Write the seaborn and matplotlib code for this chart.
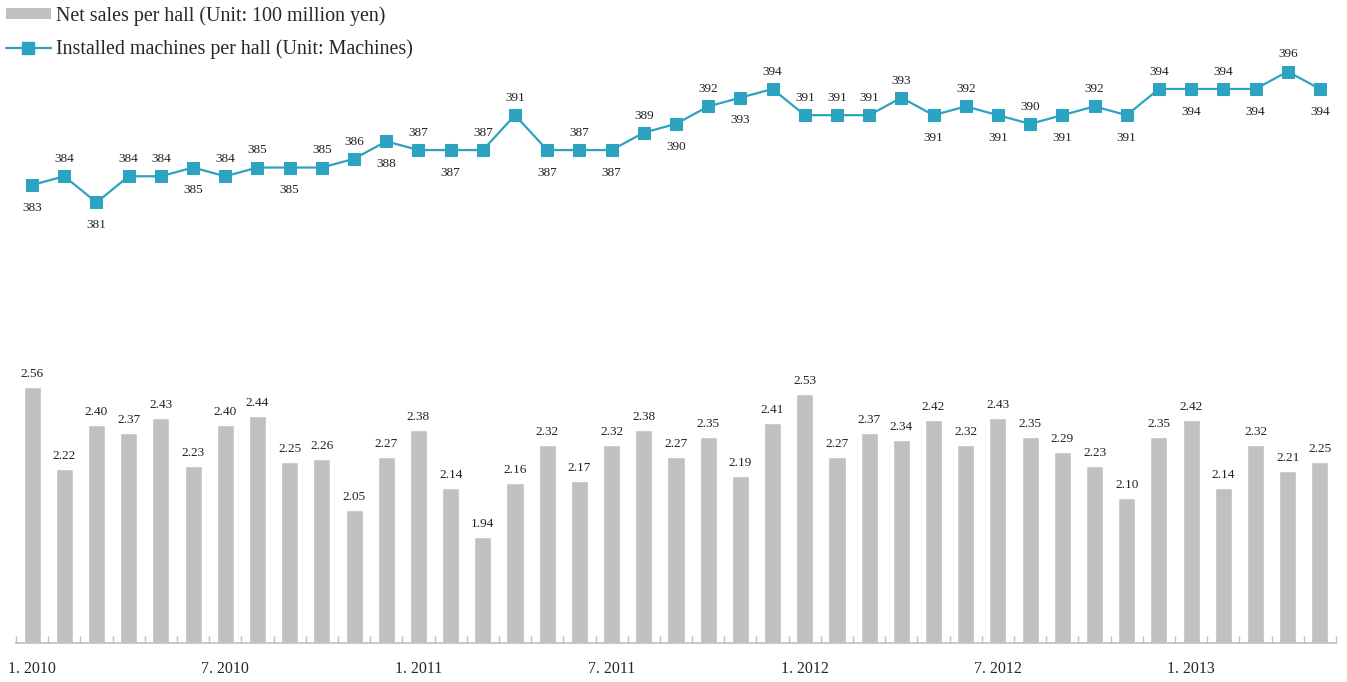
import matplotlib
matplotlib.use("Agg")
import matplotlib.pyplot as plt
from matplotlib.patches import Patch
from matplotlib.lines import Line2D
import seaborn as sns
import pandas as pd
import numpy as np

# Monthly series, January 2010 - May 2013
months = [f"{m}. {y}" for y in range(2010, 2014) for m in range(1, 13)][:41]

net_sales = [2.56, 2.22, 2.40, 2.37, 2.43, 2.23, 2.40, 2.44, 2.25, 2.26, 2.05, 2.27,
             2.38, 2.14, 1.94, 2.16, 2.32, 2.17, 2.32, 2.38, 2.27, 2.35, 2.19, 2.41,
             2.53, 2.27, 2.37, 2.34, 2.42, 2.32, 2.43, 2.35, 2.29, 2.23, 2.10, 2.35,
             2.42, 2.14, 2.32, 2.21, 2.25]

machines = [383, 384, 381, 384, 384, 385, 384, 385, 385, 385, 386, 388,
            387, 387, 387, 391, 387, 387, 387, 389, 390, 392, 393, 394,
            391, 391, 391, 393, 391, 392, 391, 390, 391, 392, 391, 394,
            394, 394, 394, 396, 394]

# which side of the marker each machine-count label sits on
label_side = ["b", "a", "b", "a", "a", "b", "a", "a", "b", "a", "a", "b",
              "a", "b", "a", "a", "b", "a", "b", "a", "b", "a", "b", "a",
              "a", "a", "a", "a", "b", "a", "b", "a", "b", "a", "b", "a",
              "b", "a", "b", "a", "b"]

tick_labels = {0: "1. 2010", 6: "7. 2010", 12: "1. 2011", 18: "7. 2011",
               24: "1. 2012", 30: "7. 2012", 36: "1. 2013"}

BAR_COLOR = "#C0C0C0"
LINE_COLOR = "#2CA3C1"
AXIS_COLOR = "#BFBFBF"

sns.set_theme(style="white")
plt.rcParams["font.family"] = ["Liberation Serif", "DejaVu Serif"]

df = pd.DataFrame({"month": months, "sales": net_sales,
                   "idx": np.arange(len(months)), "machines": machines})

W, H = 1347, 682
fig = plt.figure(figsize=(W / 100, H / 100), dpi=100)
ax = fig.add_axes([16 / W, 39 / H, 1320 / W, 643 / H])

sns.barplot(data=df, x="month", y="sales", order=months, color=BAR_COLOR,
            width=0.53, saturation=1, ax=ax)
ax.set_xlim(-0.5, len(months) - 0.5)
ax.set_ylim(1.50, 4.158)
ax.set_xlabel("")
ax.set_ylabel("")
ax.set_yticks([])
for s in ["top", "right", "left"]:
    ax.spines[s].set_visible(False)
ax.spines["bottom"].set_color(AXIS_COLOR)
ax.spines["bottom"].set_linewidth(1.2)

# ticks between months, labels at half-year marks
ax.set_xticks(np.arange(-0.5, len(months), 1.0))
ax.set_xticklabels([])
ax.tick_params(axis="x", which="major", direction="in", length=5,
               color=AXIS_COLOR, width=1, bottom=True)
ax.set_xticks(list(tick_labels.keys()), minor=True)
ax.set_xticklabels(list(tick_labels.values()), minor=True, fontsize=11.5)
ax.tick_params(axis="x", which="minor", length=0, pad=13, bottom=True)

for i, v in enumerate(net_sales):
    ax.annotate(f"{v:.2f}", (i, v), xytext=(0, 5), textcoords="offset points",
                ha="center", va="bottom", fontsize=9.5, color="#222222")

ax2 = ax.twinx()
sns.lineplot(data=df, x="idx", y="machines", color=LINE_COLOR, linewidth=1.6,
             marker="s", markersize=8, markeredgecolor=LINE_COLOR, ax=ax2)
ax2.set_ylim(330.54, 404.19)
ax2.set_xlim(-0.5, len(months) - 0.5)
ax2.set_yticks([])
ax2.set_xlabel("")
ax2.set_ylabel("")
for s in ["top", "right", "left", "bottom"]:
    ax2.spines[s].set_visible(False)

for i, (v, side) in enumerate(zip(machines, label_side)):
    if side == "a":
        ax2.annotate(f"{v}", (i, v), xytext=(0, 8), textcoords="offset points",
                     ha="center", va="bottom", fontsize=9.5, color="#222222")
    else:
        ax2.annotate(f"{v}", (i, v), xytext=(0, -12), textcoords="offset points",
                     ha="center", va="top", fontsize=9.5, color="#222222")

handles = [Patch(facecolor=BAR_COLOR, edgecolor="none"),
           Line2D([0], [0], color=LINE_COLOR, linewidth=1.6, marker="s",
                  markersize=8)]
fig.legend(handles, ["Net sales per hall (Unit: 100 million yen)",
                     "Installed machines per hall (Unit: Machines)"],
           loc="upper left", bbox_to_anchor=(0.0, 1.0), frameon=False,
           fontsize=14.4, handlelength=2.25, handleheight=0.5, handletextpad=0.25,
           labelspacing=0.7, borderpad=0.1, borderaxespad=0.2)

fig.savefig("out.png", dpi=100)
